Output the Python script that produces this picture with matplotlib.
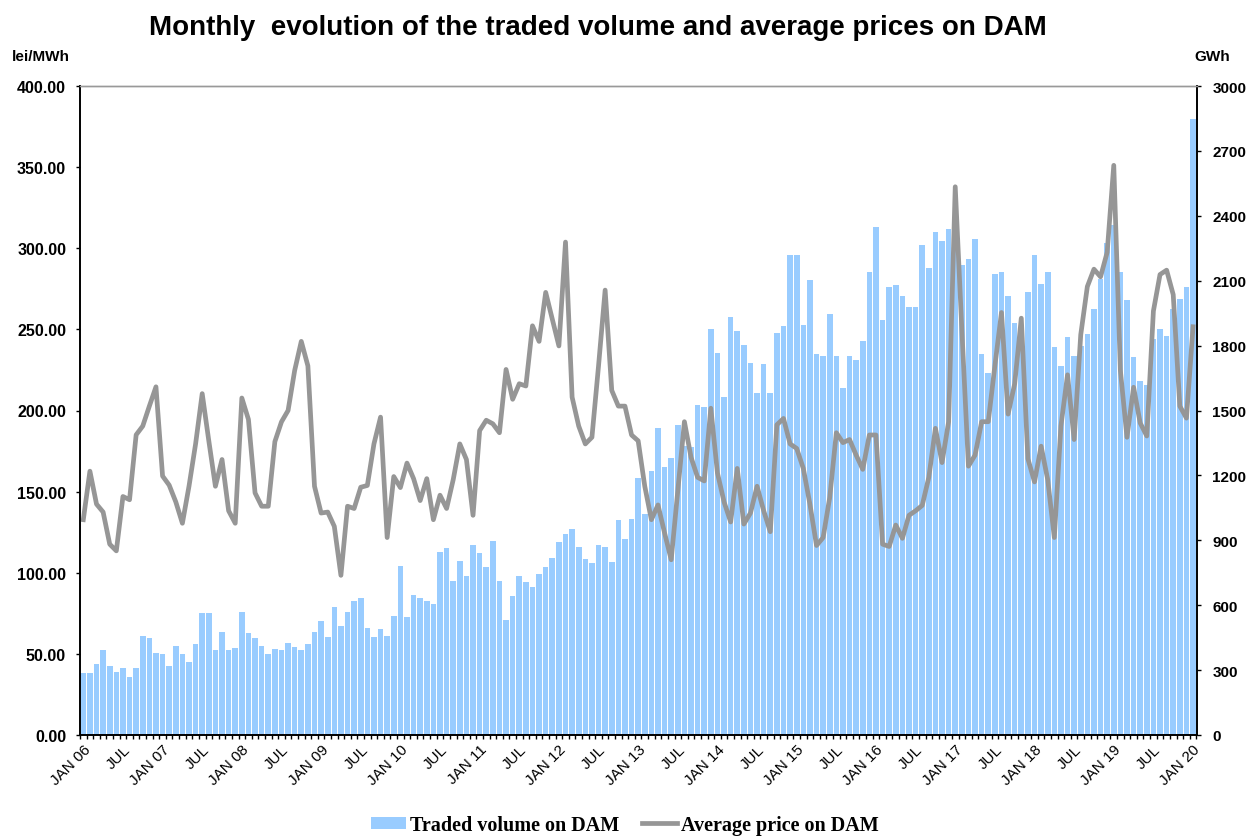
import numpy as np
import matplotlib
matplotlib.use("Agg")
import matplotlib.pyplot as plt
from matplotlib.patches import Patch
from matplotlib.lines import Line2D

# Months JAN 2006 .. JAN 2020 (169 months)
months = [f"{m} {y:02d}" for y in range(6, 21) for m in
          ["JAN", "FEB", "MAR", "APR", "MAY", "JUN", "JUL", "AUG", "SEP", "OCT", "NOV", "DEC"]][:169]

# Average price on DAM (lei/MWh)
price = [
    132.7, 162.6, 142.3, 137.4, 117.6, 113.5, 147.0, 145.0, 185.0, 190.4, 202.7, 214.6,
    159.6, 154.0, 143.7, 130.5, 153.3, 179.4, 210.4, 181.3, 153.3, 169.8, 138.2, 130.5,
    207.7, 194.5, 149.2, 141.0, 141.0, 180.8, 193.0, 200.0, 224.7, 242.6, 227.5, 153.3,
    136.8, 137.4, 128.6, 98.4, 141.0, 139.6, 152.7, 153.8, 179.4, 195.9, 121.7, 159.3,
    152.5, 167.6, 158.0, 144.5, 158.0, 132.7, 147.8, 139.6, 157.4, 179.4, 169.8, 135.4,
    187.6, 194.0, 191.8, 186.3, 225.3, 206.9, 216.5, 215.1, 252.2, 242.6, 272.8, 256.3,
    239.8, 303.8, 208.2, 190.4, 179.4, 183.5, 227.5, 274.2, 212.4, 202.7, 202.7, 184.9,
    181.3, 153.3, 132.7, 141.8, 124.5, 108.0, 150.5, 193.1, 171.2, 158.8, 156.6, 201.4,
    161.5, 143.7, 131.3, 164.3, 130.0, 136.8, 153.3, 138.2, 125.3, 191.2, 195.1, 179.4,
    176.6, 164.3, 142.3, 116.8, 121.7, 146.4, 186.3, 180.2, 182.1, 172.5, 163.7, 184.9,
    184.9, 117.6, 116.2, 129.4, 121.2, 135.4, 138.2, 141.5, 158.8, 189.0, 167.9, 193.1,
    337.9, 250.0, 165.7, 172.5, 193.1, 193.1, 227.5, 260.4, 197.8, 216.5, 256.9, 170.3,
    156.0, 178.0, 157.4, 121.7, 190.4, 222.0, 182.1, 246.7, 276.4, 287.1, 282.4, 297.5,
    351.1, 224.7, 183.5, 214.3, 192.3, 184.3, 261.3, 283.8, 286.5, 271.4, 202.7, 195.3,
    251.6,
]

# Traded volume on DAM (GWh)
volume = [
    288, 288, 330, 391, 319, 293, 311, 270, 311, 459, 447, 379,
    373, 319, 410, 373, 338, 422, 562, 562, 391, 478, 391, 404,
    569, 470, 447, 410, 373, 396, 391, 424, 408, 391, 422, 476,
    525, 453, 593, 503, 569, 618, 634, 494, 453, 488, 459, 550,
    779, 544, 645, 634, 618, 604, 847, 865, 713, 805, 733, 878,
    840, 775, 896, 713, 531, 641, 733, 709, 684, 744, 775, 816,
    890, 931, 950, 871, 812, 793, 878, 871, 799, 993, 906, 999,
    1187, 1020, 1220, 1421, 1238, 1279, 1432, 1337, 1330, 1524, 1516, 1877,
    1767, 1561, 1932, 1866, 1802, 1720, 1580, 1714, 1580, 1858, 1891, 2221,
    2217, 1895, 2101, 1761, 1751, 1947, 1750, 1603, 1753, 1735, 1819, 2138,
    2350, 1918, 2070, 2081, 2027, 1980, 1980, 2266, 2161, 2326, 2282, 2338,
    2300, 2172, 2200, 2293, 1759, 1675, 2132, 2142, 2030, 1905, 1800, 2046,
    2220, 2086, 2138, 1794, 1706, 1840, 1750, 1800, 1854, 1970, 2106, 2276,
    2358, 2142, 2011, 1747, 1638, 1619, 1829, 1875, 1846, 1969, 2015, 2070,
    2849,
]

tick_labels = ["JAN 06", "JUL", "JAN 07", "JUL", "JAN 08", "JUL", "JAN 09", "JUL",
               "JAN 10", "JUL", "JAN 11", "JUL", "JAN 12", "JUL", "JAN 13", "JUL",
               "JAN 14", "JUL", "JAN 15", "JUL", "JAN 16", "JUL", "JAN 17", "JUL",
               "JAN 18", "JUL", "JAN 19", "JUL", "JAN 20"]

left_ticks = [0, 50, 100, 150, 200, 250, 300, 350, 400]
right_ticks = [0, 300, 600, 900, 1200, 1500, 1800, 2100, 2400, 2700, 3000]

plt.rcParams['font.family'] = ['Liberation Sans', 'DejaVu Sans']

BAR_C = "#99CCFF"
LINE_C = "#969696"

fig = plt.figure(figsize=(12.53, 8.37), dpi=100)
ax = fig.add_axes([80 / 1253, 1 - 736 / 837, (1197 - 80) / 1253, (736 - 87) / 837])
ax2 = ax.twinx()

x = np.arange(len(months))
ax2.bar(x, volume, width=0.85, color=BAR_C, linewidth=0)
ax.plot(x, price, color=LINE_C, lw=3.4, solid_joinstyle='round')

ax.set_zorder(ax2.get_zorder() + 1)
ax.patch.set_visible(False)

ax.set_xlim(-0.5, len(months) - 0.4)
ax.set_ylim(0, 400)
ax2.set_ylim(0, 3000)

ax.set_yticks(left_ticks)
ax.set_yticklabels([f"{v:.2f}" for v in left_ticks], fontsize=11.5, fontweight='bold')
ax2.set_yticks(right_ticks)
ax2.set_yticklabels([str(v) for v in right_ticks], fontsize=11, fontweight='bold')
ax.tick_params(axis='y', length=3, width=1, pad=7, direction='out')
ax2.tick_params(axis='y', length=3, width=1, pad=8, direction='out')

ax.set_xticks(np.arange(0, len(months), 6))
ax.set_xticklabels(tick_labels, rotation=45, ha='right', rotation_mode='anchor', fontsize=11)
ax.set_xticks(np.arange(-0.5, len(months), 1), minor=True)
ax.tick_params(axis='x', which='major', length=0, pad=5)
ax.tick_params(axis='x', which='minor', length=3, width=1, direction='out')

for a in (ax, ax2):
    a.spines['top'].set_color('#999999')
    a.spines['top'].set_linewidth(1)
    for s in ('left', 'right', 'bottom'):
        a.spines[s].set_color('black')
        a.spines[s].set_linewidth(1.2)

fig.text(598 / 1253, 1 - 28 / 837, "Monthly  evolution of the traded volume and average prices on DAM",
         ha='center', va='center', fontsize=20, fontweight='bold')
fig.text(12 / 1253, 1 - 57 / 837, "lei/MWh", ha='left', va='center', fontsize=11, fontweight='bold')
fig.text(1194 / 1253, 1 - 57 / 837, "GWh", ha='left', va='center', fontsize=11, fontweight='bold')

handles = [Patch(facecolor=BAR_C, edgecolor='none'),
           Line2D([0], [0], color=LINE_C, lw=3.4)]
fig.legend(handles, ["Traded volume on DAM", "Average price on DAM"],
           loc='center', bbox_to_anchor=(625 / 1253, 1 - 826 / 837), ncol=2, frameon=False,
           prop={'family': 'Liberation Serif', 'weight': 'bold', 'size': 14.5},
           handlelength=1.75, handleheight=0.55, handletextpad=0.2, columnspacing=1.1)

fig.savefig("out.png", dpi=100)
